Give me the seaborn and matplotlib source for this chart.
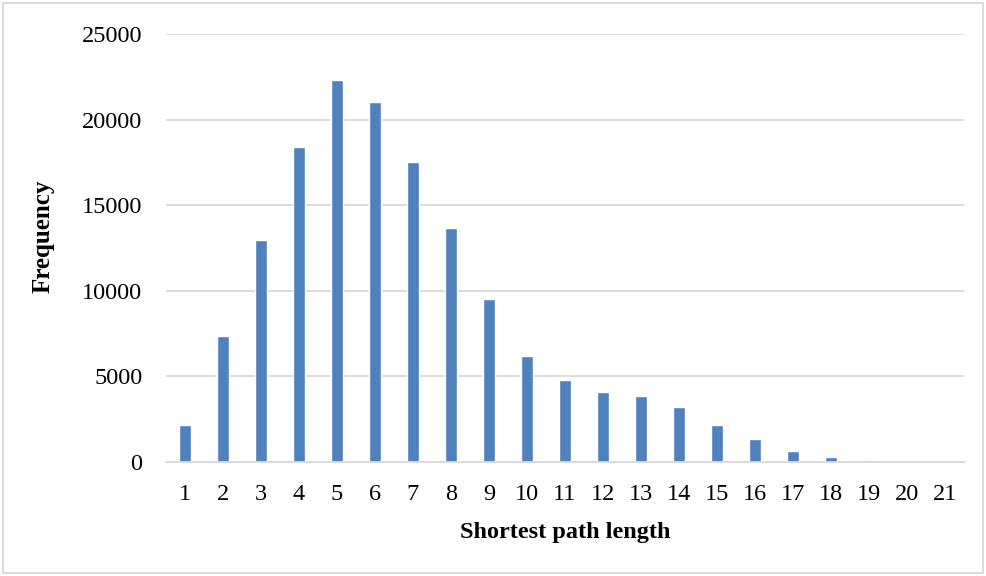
import matplotlib
matplotlib.use("Agg")
import matplotlib.pyplot as plt
import seaborn as sns
import pandas as pd
from matplotlib.patches import Rectangle

# dados
path_length = list(range(1, 22))
frequency = [2140, 7380, 12960, 18380, 22290, 21000, 17510, 13640, 9540, 6220,
             4810, 4110, 3830, 3230, 2180, 1320, 660, 290, 95, 0, 0]
y_ticks = [0, 5000, 10000, 15000, 20000, 25000]

df = pd.DataFrame({'Shortest path length': [str(v) for v in path_length],
                   'Frequency': frequency})

sns.set_theme(style="white")
plt.rcParams['font.family'] = ['Liberation Serif', 'DejaVu Serif']

fig = plt.figure(figsize=(9.86, 5.76), dpi=100)
ax = fig.add_axes([166 / 986, 114 / 576, 798 / 986, 428 / 576])

sns.barplot(data=df, x='Shortest path length', y='Frequency', ax=ax,
            color='#4f81bd', saturation=1, width=0.31, errorbar=None)

ax.set_ylim(0, 25000)
ax.set_yticks(y_ticks)
ax.set_yticklabels([str(v) for v in y_ticks])
ax.set_xlim(-0.5, len(path_length) - 0.5)
ax.set_axisbelow(True)
ax.yaxis.grid(True, color='#d9d9d9', linewidth=1.3)
ax.xaxis.grid(False)
for s in ['top', 'right', 'left']:
    ax.spines[s].set_visible(False)
ax.spines['bottom'].set_color('#d9d9d9')
ax.spines['bottom'].set_linewidth(1.3)
ax.tick_params(axis='both', length=0, labelsize=17.5, colors='black')
ax.tick_params(axis='y', pad=17)
ax.tick_params(axis='x', pad=16)
ax.set_xlabel('Shortest path length', fontsize=17.5, fontweight='bold',
              labelpad=12, color='black')
ax.set_ylabel('Frequency', fontsize=18, fontweight='bold', color='black')
ax.yaxis.set_label_coords(-0.154, 0.528)
ax.yaxis.label.set_verticalalignment('center')

# borda externa do gráfico
fig.patches.append(Rectangle((3 / 986, 3 / 576), 980 / 986, 570 / 576,
                             transform=fig.transFigure, fill=False,
                             edgecolor='#d9d9d9', linewidth=1.3))

plt.savefig('out.png', dpi=100)
